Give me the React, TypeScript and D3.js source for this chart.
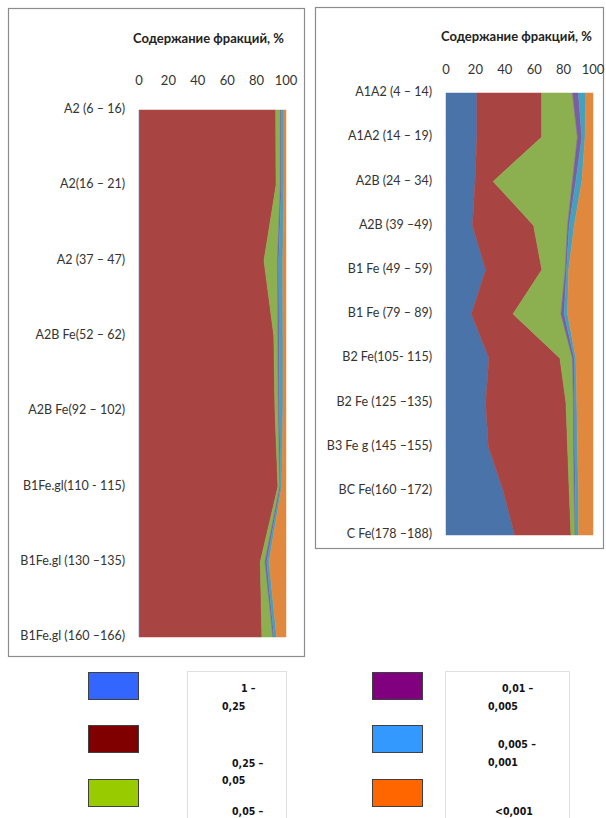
import React from 'react';
import * as d3 from 'd3';

const keys = ['f1', 'f2', 'f3', 'f4', 'f5', 'f6'];

// left profile
const leftCats = ['A2 (6 – 16)', 'A2(16 – 21)', 'A2 (37 – 47)', 'A2B Fe(52 – 62)', 'A2B Fe(92 – 102)',
  'B1Fe.gl(110 - 115)', 'B1Fe.gl (130 –135)', 'B1Fe.gl (160 –166)'];
const leftF1 = [0.4, 0.4, 0.4, 0.4, 0.4, 0.4, 0.4, 0.4];
const leftF2 = [92.6, 92.8, 84.6, 91.3, 92.1, 94.1, 82.1, 83.2];
const leftF3 = [3.2, 3.0, 9.2, 2.8, 2.3, 1.3, 3.2, 7.5];
const leftF4 = [0.7, 0.7, 0.8, 0.8, 0.8, 0.5, 1.2, 0.7];
const leftF5 = [1.6, 1.6, 2.8, 2.6, 2.3, 0.8, 1.5, 1.8];
const leftF6 = [1.5, 1.5, 2.2, 2.1, 2.1, 2.9, 11.6, 6.4];

// right profile
const rightCats = ['A1A2 (4 – 14)', 'A1A2 (14 – 19)', 'A2B (24 – 34)', 'A2B (39 –49)', 'B1 Fe (49 – 59)',
  'B1 Fe (79 – 89)', 'B2 Fe(105- 115)', 'B2 Fe (125 –135)', 'B3 Fe g (145 –155)', 'BC Fe(160 –172)', 'C Fe(178 –188)'];
const rightF1 = [21, 21, 19.8, 18, 27, 17.3, 29.2, 27, 28.8, 38.9, 46.7];
const rightF2 = [44, 44, 12.3, 41.6, 38.2, 28.3, 48.3, 54.6, 53.9, 44.9, 38.3];
const rightF3 = [21, 24.4, 53.9, 23.1, 15.9, 32.6, 8.5, 5.1, 4, 3.4, 2.9];
const rightF4 = [4, 3, 2.3, 1.1, 0.9, 2.2, 1.2, 0.9, 0.9, 0.7, 0.4];
const rightF5 = [5, 2.2, 4.1, 3.4, 1.4, 2.3, 1.1, 1.4, 1.8, 2.2, 1.8];
const rightF6 = [5, 5.4, 7.6, 12.8, 16.6, 17.3, 11.7, 11, 10.6, 9.9, 9.9];

const ticks = [0, 20, 40, 60, 80, 100];
const title = 'Содержание фракций, %';

const areaColors = ['#4A73AA', '#A84442', '#8CAF50', '#7B5EA0', '#45A0BE', '#E0883E'];
const legendColors = ['#3366FF', '#800000', '#99CC00', '#800080', '#3399FF', '#FF6600'];
const legendLines = [['1 –', '0,25'], ['0,25 –', '0,05'], ['0,05 –', ''],
  ['0,01 –', '0,005'], ['0,005 –', '0,001'], ['<0,001', '']];

const font = 'Lato, "Open Sans", sans-serif';

function rows(cats: string[], cols: number[][]) {
  return cats.map((c, i) => {
    const r: any = { cat: c };
    keys.forEach((k, j) => { r[k] = cols[j][i]; });
    return r;
  });
}

function Panel({ cats, cols, box, x0, x1, y0, y1, titleX, titleY, tickY, labelX }: any) {
  const data = rows(cats, cols);
  const series = d3.stack().keys(keys)(data);
  const x = d3.scaleLinear().domain([0, 100]).range([x0, x1]);
  const y = d3.scalePoint().domain(cats).range([y0, y1]);
  const area = d3.area<any>()
    .y(d => y(d.data.cat) as number)
    .x0(d => x(d[0]))
    .x1(d => x(d[1]));
  return (
    <g>
      <rect x={box[0] + 0.5} y={box[1] + 0.5} width={box[2]} height={box[3]} fill="#fff" stroke="#8c8c8c" strokeWidth={1.2} />
      <text x={titleX} y={titleY} fontFamily={font} fontWeight="bold" fontSize={13} fill="#222" dominantBaseline="middle">{title}</text>
      {ticks.map(t => (
        <text key={t} x={x(t)} y={tickY} textAnchor="middle" dominantBaseline="middle" fontFamily={font} fontSize={13} fill="#333">{t}</text>
      ))}
      {series.map((s, i) => (
        <path key={s.key} d={area(s as any) || ''} fill={areaColors[i]} stroke={areaColors[i]} strokeWidth={0.5} />
      ))}
      {cats.map((c: string) => (
        <text key={c} x={labelX} y={y(c)} textAnchor="end" dominantBaseline="middle" fontFamily={font} fontSize={12.5} fill="#333">{c}</text>
      ))}
    </g>
  );
}

export default function App() {
  const boxX = [88, 372];
  const boxY = [672, 725, 779];
  return (
    <svg width={606} height={818} style={{ position: 'absolute', left: 0, top: 0 }}>
      <rect width={606} height={818} fill="#fff" />
      <Panel cats={leftCats} cols={[leftF1, leftF2, leftF3, leftF4, leftF5, leftF6]}
        box={[8, 8, 296, 648]} x0={139} x1={286} y0={110} y1={637}
        titleX={133} titleY={40} tickY={82} labelX={125} />
      <Panel cats={rightCats} cols={[rightF1, rightF2, rightF3, rightF4, rightF5, rightF6]}
        box={[315, 7, 288, 541]} x0={446} x1={593} y0={93} y1={535}
        titleX={441} titleY={38} tickY={71} labelX={432} />
      {/* legend */}
      <rect x={187.5} y={671.5} width={99} height={160} fill="#fff" stroke="#e0e0e0" />
      <rect x={445.5} y={671.5} width={124} height={160} fill="#fff" stroke="#e0e0e0" />
      {legendColors.map((c, i) => {
        const col = Math.floor(i / 3), row = i % 3;
        return (
          <rect key={c} x={boxX[col] + 0.5} y={boxY[row] + 0.5} width={50} height={27} fill={c} stroke="#404040" strokeWidth={1} />
        );
      })}
      {[
        [241, 692, 222, 710], [232, 767, 222, 784], [232, 815, 222, 841],
        [502, 692, 488, 710], [498, 748, 488, 766], [495, 815, 488, 841],
      ].map((p, i) => (
        <g key={i} fontFamily="'DejaVu Sans Condensed', 'DejaVu Sans', sans-serif" fontWeight="bold" fontSize={10.5} fill="#111">
          <text x={p[0]} y={p[1]}>{legendLines[i][0]}</text>
          {legendLines[i][1] && <text x={p[2]} y={p[3]}>{legendLines[i][1]}</text>}
        </g>
      ))}
    </svg>
  );
}
